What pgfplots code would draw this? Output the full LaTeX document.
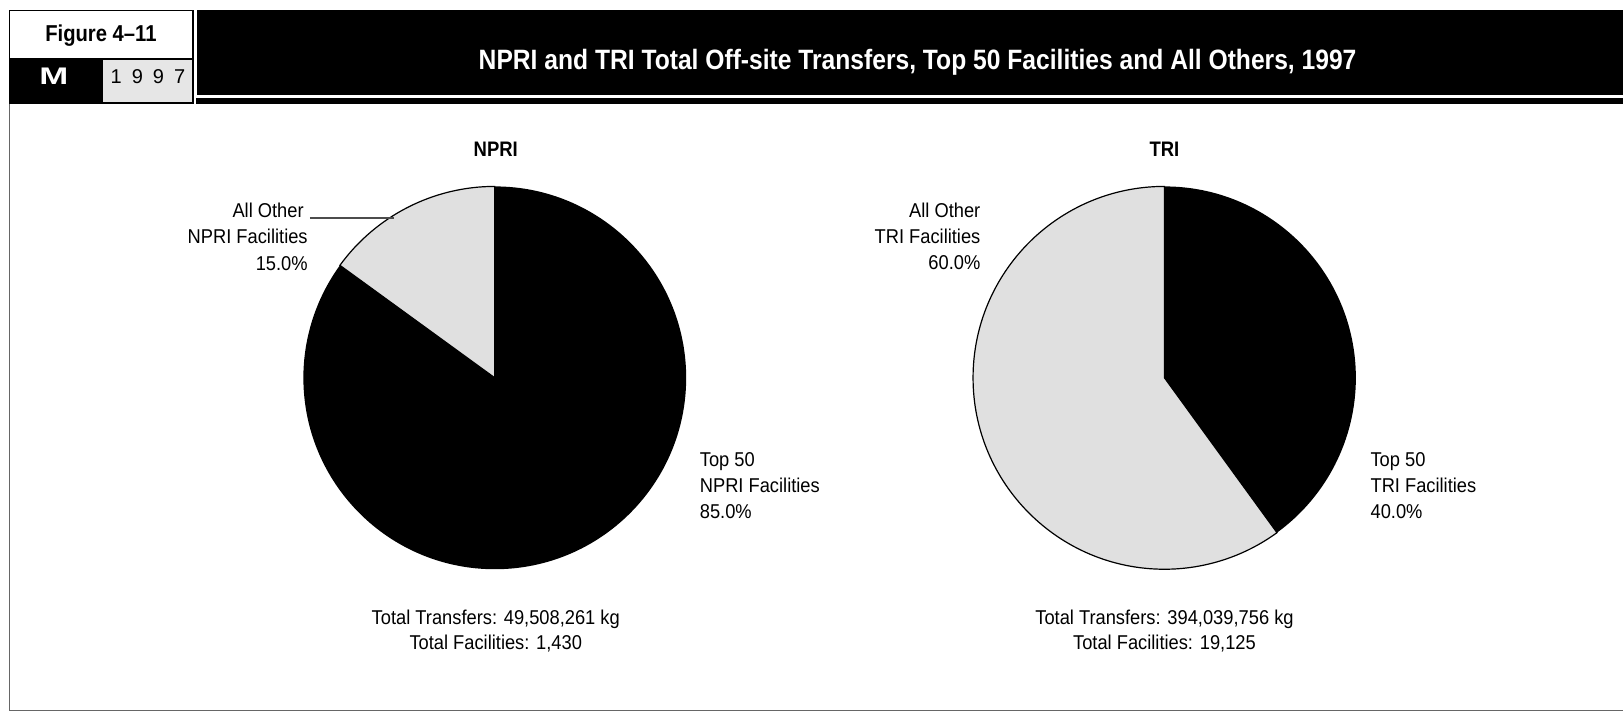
\documentclass[border=0pt]{standalone}
\usepackage{fontspec}
\usepackage{graphicx}
\usepackage{pgfplots}
\pgfplotsset{compat=1.18}
\setmainfont{Liberation Sans}[FakeStretch=0.88]
\newfontfamily\widefont{Liberation Sans}
\newfontfamily\lblfont{Liberation Sans}[FakeStretch=0.915]
\definecolor{piegray}{RGB}{224,224,224}
\definecolor{boxgray}{RGB}{230,230,230}
% data (percent shares)
\def\npriTop{85.0}
\def\npriOther{15.0}
\def\triTop{40.0}
\def\triOther{60.0}
\def\R{191.5}
\newcommand{\lbl}{\lblfont\fontsize{20}{24}\selectfont}
\begin{document}
\begin{tikzpicture}
\begin{axis}[
  x=1pt, y=1pt, xmin=0, xmax=1624, ymin=0, ymax=712,
  hide axis, clip=false, disabledatascaling,
]
\path (0,0) rectangle (1624,712);
% header: figure box
\fill[black] (9,608) rectangle (194,702);
\fill[white] (10.5,654) rectangle (192.5,700.5);
\fill[boxgray] (103,609.5) rectangle (192,652);
\node[anchor=base, text=black, font=\bfseries\fontsize{23}{26}\selectfont] at (101,670.3) {Figure 4--11};
\node[anchor=base, text=white, font=\widefont\bfseries\fontsize{24}{28}\selectfont] at (54,627) {\scalebox{1.45}[1]{M}};
\node[anchor=base, text=black, font=\widefont\fontsize{20}{24}\selectfont] at (148,628) {1\hspace{10pt}9\hspace{10pt}9\hspace{10pt}7};
% title bar
\fill[black] (197,617) rectangle (1624,702);
\fill[black] (196,608) rectangle (1624,614);
\node[anchor=base, text=white, font=\bfseries\fontsize{28}{32}\selectfont] at (918,642) {NPRI and TRI Total Off-site Transfers, Top 50 Facilities and All Others, 1997};
% frame
\draw[black!60, line width=1.5pt] (9.75,608) -- (9.75,1) -- (1624,1);
% NPRI pie
\filldraw[fill=piegray, draw=black, line width=1.2pt] (495,334) -- ++(90:\R) arc[start angle=90, end angle={90+\npriOther*3.6}, radius=\R] -- cycle;
\fill[black] (495,334) -- ++(90:\R) arc[start angle=90, end angle={90-\npriTop*3.6}, radius=\R] -- cycle;
% TRI pie
\filldraw[fill=piegray, draw=black, line width=1.2pt] (1165,334) -- ++(90:\R) arc[start angle=90, end angle={90+\triOther*3.6}, radius=\R] -- cycle;
\fill[black] (1165,334) -- ++(90:\R) arc[start angle=90, end angle={90-\triTop*3.6}, radius=\R] -- cycle;
% headings
\node[anchor=base, font=\bfseries\fontsize{21}{24}\selectfont] at (496,555.3) {NPRI};
\node[anchor=base, font=\bfseries\fontsize{21}{24}\selectfont] at (1165,555.3) {TRI};
% NPRI labels
\draw[black!70, line width=1.3pt] (310,494) -- (394,494);
\node[anchor=base east, font=\lbl, inner sep=0pt] at (304,494.7) {All Other};
\node[anchor=base east, font=\lbl, inner sep=0pt] at (308,468) {NPRI Facilities};
\node[anchor=base east, font=\lbl, inner sep=0pt] at (308,441.3) {15.0\%};
\node[anchor=base west, font=\lbl, inner sep=0pt] at (700,245.3) {Top 50};
\node[anchor=base west, font=\lbl, inner sep=0pt] at (700,219.3) {NPRI Facilities};
\node[anchor=base west, font=\lbl, inner sep=0pt] at (700,193.7) {85.0\%};
\node[anchor=base, font=\lbl, inner sep=0pt] at (496,87) {Total Transfers: 49,508,261 kg};
\node[anchor=base, font=\lbl, inner sep=0pt] at (496,62) {Total Facilities: 1,430};
% TRI labels
\node[anchor=base east, font=\lbl, inner sep=0pt] at (981,494.7) {All Other};
\node[anchor=base east, font=\lbl, inner sep=0pt] at (981,468.7) {TRI Facilities};
\node[anchor=base east, font=\lbl, inner sep=0pt] at (981,442) {60.0\%};
\node[anchor=base west, font=\lbl, inner sep=0pt] at (1371,245.3) {Top 50};
\node[anchor=base west, font=\lbl, inner sep=0pt] at (1371,219.3) {TRI Facilities};
\node[anchor=base west, font=\lbl, inner sep=0pt] at (1371,193.7) {40.0\%};
\node[anchor=base, font=\lbl, inner sep=0pt] at (1165,87) {Total Transfers: 394,039,756 kg};
\node[anchor=base, font=\lbl, inner sep=0pt] at (1165,62) {Total Facilities: 19,125};
\end{axis}
\end{tikzpicture}
\end{document}
